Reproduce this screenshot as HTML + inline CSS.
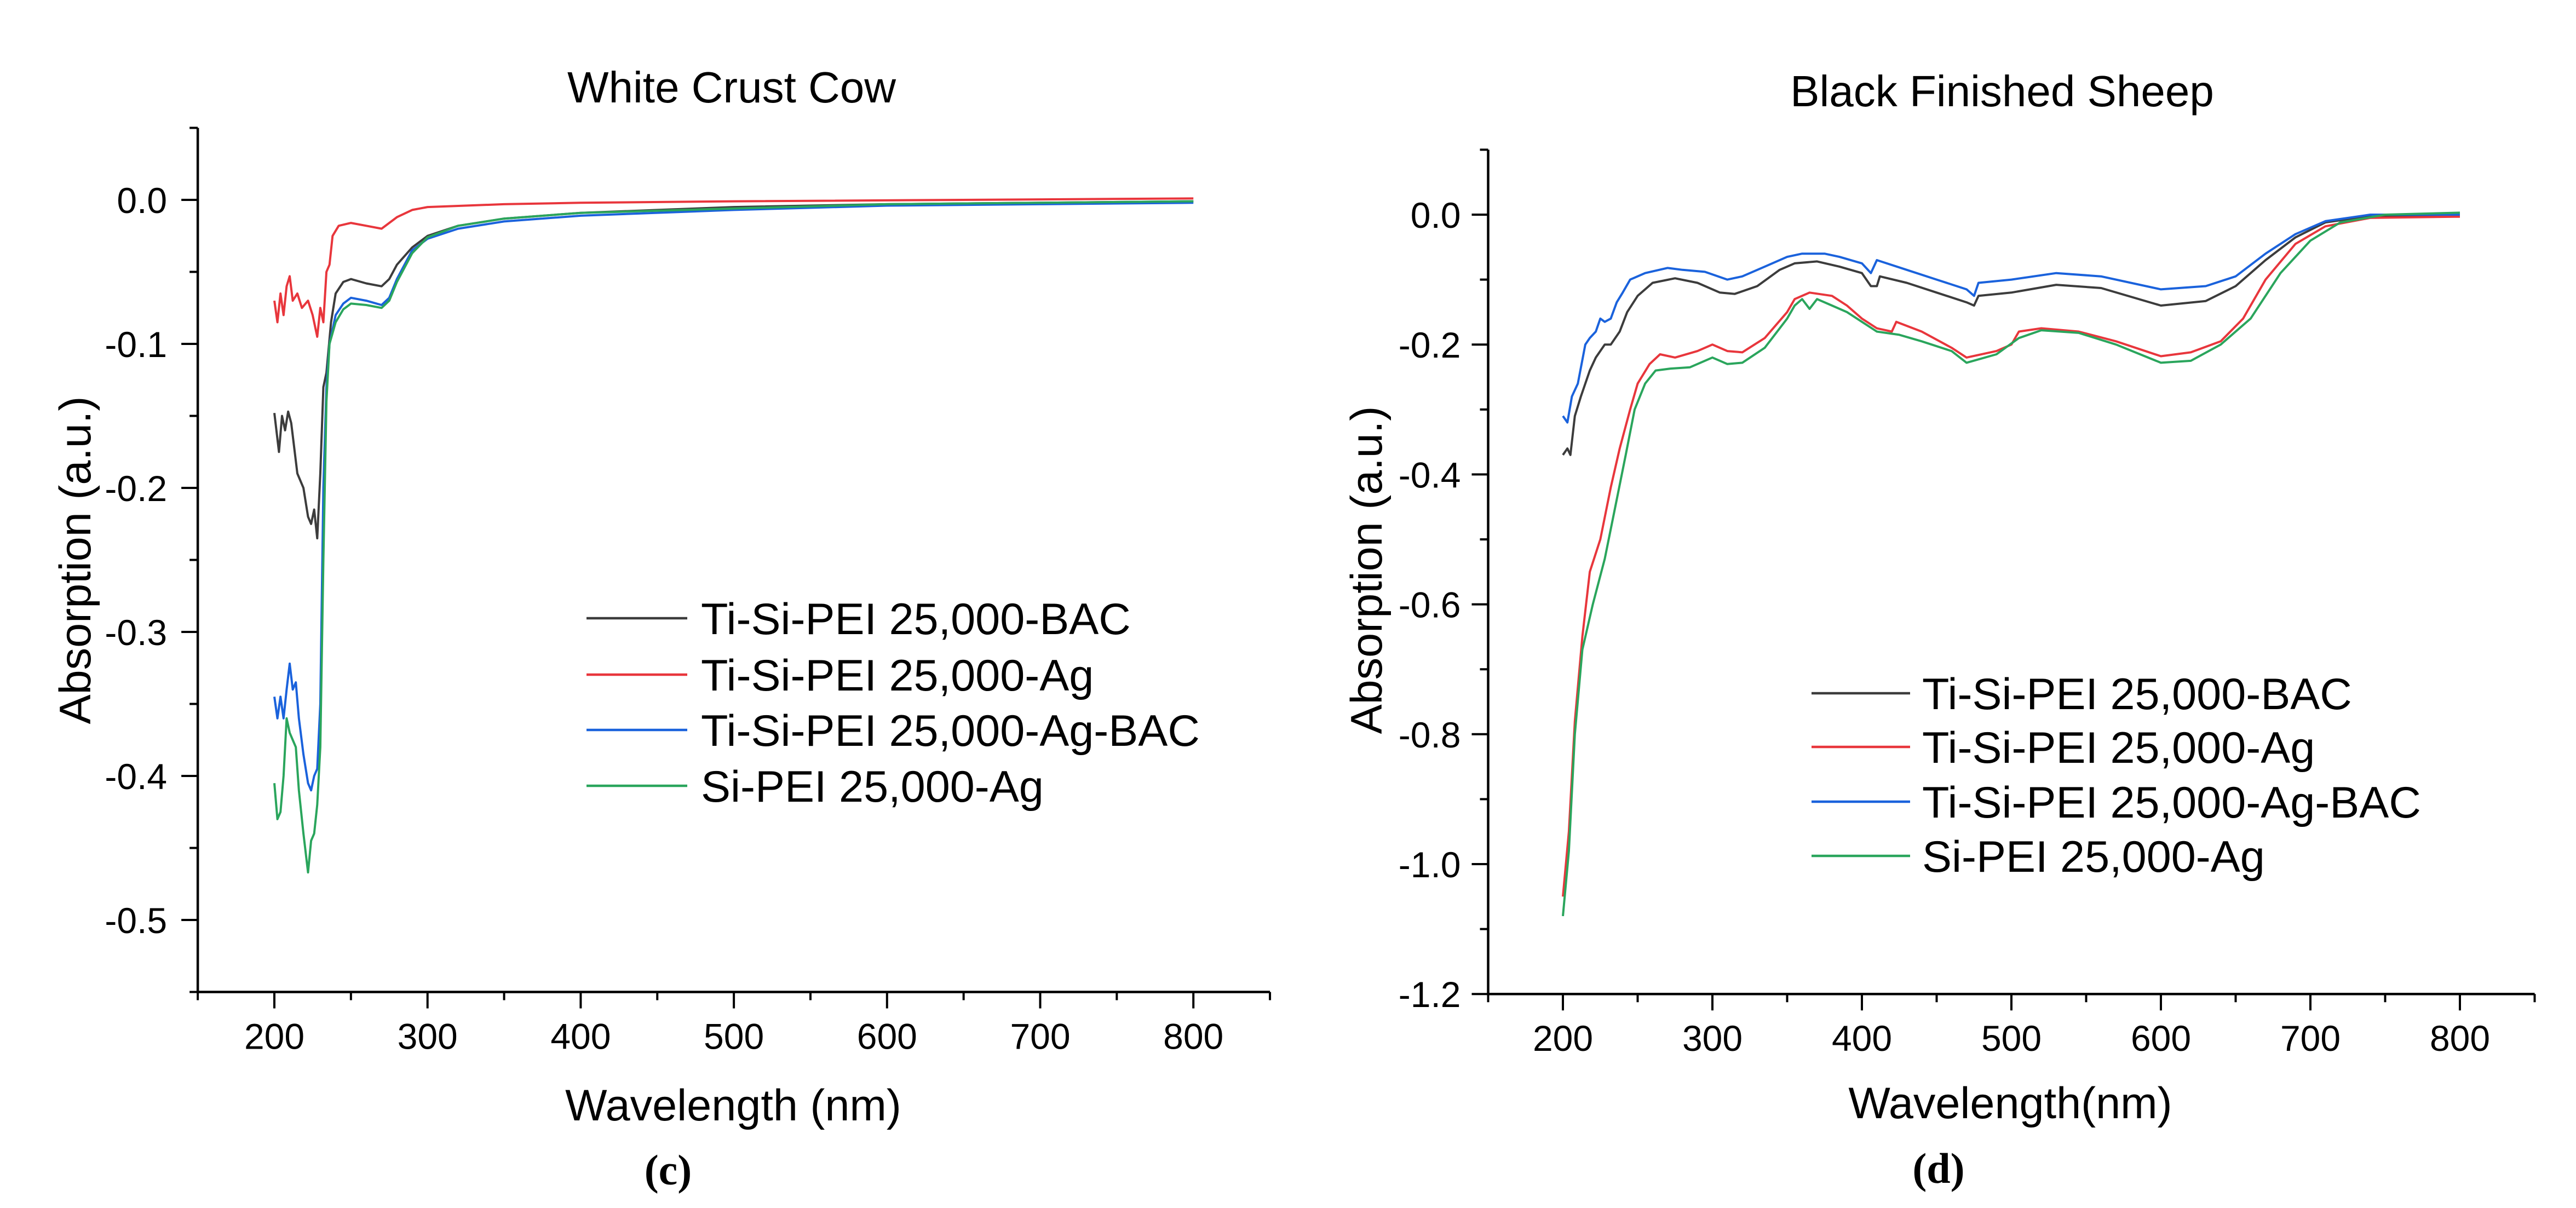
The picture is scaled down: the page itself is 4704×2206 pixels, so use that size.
<!DOCTYPE html>
<html><head><meta charset="utf-8"><style>
html,body{margin:0;padding:0;background:#fff;}
svg{display:block;font-family:"Liberation Sans",Arial,sans-serif;}
</style></head><body>
<svg id="fig" width="4704" height="2206" viewBox="0 0 4704 2206" xmlns="http://www.w3.org/2000/svg"></svg>
<script>
// ---- Panel (c) data: White Crust Cow ----
const cWl_black = [200,203,205,207,209,211,215,219,222,224,226,228,230,232,234,237,240,245,250,260,270,275,280,290,300,320,350,400,500,600,700,800];
const cAbs_black = [-0.148,-0.175,-0.15,-0.16,-0.147,-0.155,-0.19,-0.2,-0.22,-0.225,-0.215,-0.235,-0.19,-0.13,-0.12,-0.085,-0.065,-0.057,-0.055,-0.058,-0.06,-0.055,-0.045,-0.033,-0.025,-0.018,-0.013,-0.009,-0.005,-0.003,-0.002,-0.001];
const cWl_red = [200,202,204,206,208,210,212,215,218,222,225,228,230,232,234,236,238,242,250,260,270,280,290,300,350,400,500,800];
const cAbs_red = [-0.07,-0.085,-0.065,-0.08,-0.06,-0.053,-0.07,-0.065,-0.075,-0.07,-0.08,-0.095,-0.075,-0.085,-0.05,-0.045,-0.025,-0.018,-0.016,-0.018,-0.02,-0.012,-0.007,-0.005,-0.003,-0.002,-0.001,0.001];
const cWl_blue = [200,202,204,206,208,210,212,214,216,219,222,224,226,228,230,232,234,236,240,245,250,260,270,275,280,290,300,320,350,400,500,600,700,800];
const cAbs_blue = [-0.345,-0.36,-0.345,-0.36,-0.34,-0.322,-0.34,-0.335,-0.36,-0.385,-0.405,-0.41,-0.4,-0.395,-0.35,-0.2,-0.13,-0.1,-0.08,-0.072,-0.068,-0.07,-0.073,-0.068,-0.055,-0.035,-0.027,-0.02,-0.015,-0.011,-0.007,-0.004,-0.003,-0.002];
const cWl_green = [200,202,204,206,208,210,212,214,216,219,222,224,226,228,230,232,234,236,240,245,250,260,270,275,280,290,300,320,350,400,500,600,800];
const cAbs_green = [-0.405,-0.43,-0.425,-0.4,-0.36,-0.37,-0.375,-0.38,-0.41,-0.44,-0.467,-0.445,-0.44,-0.42,-0.38,-0.25,-0.14,-0.1,-0.085,-0.076,-0.072,-0.073,-0.075,-0.07,-0.057,-0.037,-0.026,-0.018,-0.013,-0.009,-0.006,-0.003,-0.001];
const cYTicks = [0.0,-0.1,-0.2,-0.3,-0.4,-0.5];
const cYTickLabels = ["0.0","-0.1","-0.2","-0.3","-0.4","-0.5"];

// ---- Panel (d) data: Black Finished Sheep ----
const dWl_black = [200,203,205,208,212,218,222,228,232,238,243,250,260,275,290,305,315,330,345,355,370,385,400,406,410,412,430,450,470,475,478,500,530,560,600,630,650,670,690,710,740,800];
const dAbs_black = [-0.37,-0.36,-0.37,-0.31,-0.28,-0.24,-0.22,-0.2,-0.2,-0.18,-0.15,-0.125,-0.105,-0.098,-0.105,-0.12,-0.122,-0.11,-0.085,-0.075,-0.072,-0.08,-0.09,-0.11,-0.11,-0.095,-0.105,-0.12,-0.135,-0.14,-0.125,-0.12,-0.108,-0.113,-0.14,-0.133,-0.11,-0.07,-0.035,-0.012,-0.002,-0.003];
const dWl_red = [200,204,208,213,218,225,232,238,245,250,258,265,275,290,300,310,320,335,350,355,365,380,390,400,410,420,423,440,460,470,490,500,505,520,545,570,600,620,640,655,670,690,710,740,800];
const dAbs_red = [-1.05,-0.95,-0.78,-0.65,-0.55,-0.5,-0.42,-0.36,-0.3,-0.26,-0.23,-0.215,-0.22,-0.21,-0.2,-0.21,-0.212,-0.19,-0.15,-0.13,-0.12,-0.125,-0.14,-0.16,-0.175,-0.18,-0.165,-0.18,-0.205,-0.22,-0.21,-0.2,-0.18,-0.175,-0.18,-0.195,-0.218,-0.212,-0.195,-0.16,-0.1,-0.045,-0.018,-0.005,-0.003];
const dWl_blue = [200,203,206,210,215,218,222,225,228,232,236,240,245,255,270,280,295,310,320,335,350,360,375,385,400,406,410,430,450,470,475,478,500,530,560,600,630,650,670,690,710,740,800];
const dAbs_blue = [-0.31,-0.32,-0.28,-0.26,-0.2,-0.19,-0.18,-0.16,-0.165,-0.16,-0.135,-0.12,-0.1,-0.09,-0.082,-0.085,-0.088,-0.1,-0.095,-0.08,-0.065,-0.06,-0.06,-0.065,-0.075,-0.09,-0.07,-0.085,-0.1,-0.115,-0.125,-0.105,-0.1,-0.09,-0.095,-0.115,-0.11,-0.095,-0.06,-0.03,-0.01,0.0,0.0];
const dWl_green = [200,204,208,213,220,228,235,242,248,255,262,272,285,300,310,320,335,350,355,360,365,370,380,390,400,410,425,440,460,470,490,505,520,545,570,600,620,640,660,680,700,720,750,800];
const dAbs_green = [-1.08,-0.98,-0.8,-0.67,-0.6,-0.53,-0.45,-0.37,-0.3,-0.26,-0.24,-0.237,-0.235,-0.22,-0.23,-0.228,-0.205,-0.16,-0.14,-0.13,-0.145,-0.13,-0.14,-0.15,-0.165,-0.18,-0.185,-0.195,-0.21,-0.228,-0.215,-0.19,-0.178,-0.182,-0.2,-0.228,-0.225,-0.2,-0.16,-0.09,-0.04,-0.012,0.0,0.003];
const dYTicks = [0.0,-0.2,-0.4,-0.6,-0.8,-1.0,-1.2];
const dYTickLabels = ["0.0","-0.2","-0.4","-0.6","-0.8","-1.0","-1.2"];

const xTicks = [200,300,400,500,600,700,800];
const xTickLabels = ["200","300","400","500","600","700","800"];
const seriesNames = ["Ti-Si-PEI 25,000-BAC","Ti-Si-PEI 25,000-Ag","Ti-Si-PEI 25,000-Ag-BAC","Si-PEI 25,000-Ag"];
const seriesColors = ["#3c3c3c","#e8363c","#1a62dc","#2aa55c"];

const NS = "http://www.w3.org/2000/svg";
const svg = document.getElementById("fig");
function mk(tag, attrs, parent, text) {
  const e = document.createElementNS(NS, tag);
  for (const k in attrs) e.setAttribute(k, attrs[k]);
  if (text !== undefined) e.textContent = text;
  (parent || svg).appendChild(e);
  return e;
}

function panel(p) {
  const g = mk("g", {});
  
  
  const xs = v => p.x0 + (v - 200) * p.xk;
  const ys = v => p.y0 - v * p.yk;
  const L = xs(150), R = xs(850), T = ys(p.ymax), B = ys(p.ymin);
  const ax = mk("path", {d:`M${L} ${T} L${L} ${B} L${R} ${B}`, fill:"none", stroke:"#000", "stroke-width":4.5}, g);
  
  
  for (let v = 150; v <= 850; v += 50) {
    const major = (v % 100 === 0);
    const t = mk("line", {x1:xs(v), x2:xs(v), y1:B, y2:B + (major ? 30 : 15), stroke:"#000", "stroke-width":4}, g);
    
    
  }
  xTicks.forEach((v, i) => {
    const t = mk("text", {x:xs(v), y:B + 104, "font-size":66, "text-anchor":"middle", fill:"#000"}, g, xTickLabels[i]);
    
    
  });
  const n = Math.round((p.ymax - p.ymin) / p.minor);
  for (let i = 0; i <= n; i++) {
    const v = p.ymin + i * p.minor;
    const major = p.yTicks.some(t => Math.abs(t - v) < 1e-6);
    const t = mk("line", {x1:L, x2:L - (major ? 30 : 15), y1:ys(v), y2:ys(v), stroke:"#000", "stroke-width":4}, g);
    
    
  }
  p.yTicks.forEach((v, i) => {
    const t = mk("text", {x:L - p.labGap, y:ys(v) + 24, "font-size":66, "text-anchor":"end", fill:"#000"}, g, p.yLabels[i]);
    
    
  });
  let t = mk("text", {x:p.titleX, y:p.titleY, "font-size":80, "text-anchor":"middle", fill:"#000"}, g, p.title);
  
  
  t = mk("text", {x:p.xtX, y:p.xtY, "font-size":81, "text-anchor":"middle", fill:"#000"}, g, p.xTitle);
  
  
  t = mk("text", {x:0, y:0, "font-size":81, "text-anchor":"middle", fill:"#000", transform:`translate(${p.ytX} ${p.ytY}) rotate(-90)`}, g, "Absorption (a.u.)");
  
  
  t = mk("text", {x:p.capX, y:p.capY, "font-size":78, "font-weight":"bold", "text-anchor":"middle", fill:"#000", "font-family":"'Liberation Serif',serif"}, g, p.caption);
  
  
  p.series.forEach((s, i) => {
    const d = s[0].map((w, j) => (j ? "L" : "M") + xs(w).toFixed(1) + " " + ys(s[1][j]).toFixed(1)).join(" ");
    const pl = mk("path", {d, fill:"none", stroke:seriesColors[i], "stroke-width":4, "stroke-linejoin":"round"}, g);
    
    
  });
  seriesNames.forEach((nm, i) => {
    const y = p.legY[i];
    const ln = mk("line", {x1:p.legX1, x2:p.legX2, y1:y, y2:y, stroke:seriesColors[i], "stroke-width":4.5}, g);
    
    
    const tx = mk("text", {x:p.legTX, y:y + 29, "font-size":81, fill:"#000"}, g, nm);
    
    
  });
}

panel({id:"panel-c-chart", x0:501, xk:2.797, y0:365, yk:2630, ymax:0.05, ymin:-0.55, minor:0.05,
  yTicks:cYTicks, yLabels:cYTickLabels, labGap:56,
  title:"White Crust Cow", titleX:1336, titleY:187, xTitle:"Wavelength (nm)", xtX:1339, xtY:2046,
  ytX:165, ytY:1023, caption:"(c)", capX:1220, capY:2163,
  series:[[cWl_black,cAbs_black],[cWl_red,cAbs_red],[cWl_blue,cAbs_blue],[cWl_green,cAbs_green]],
  legX1:1071, legX2:1255, legTX:1280, legY:[1129,1232,1333,1435]});

panel({id:"panel-d-chart", x0:2854, xk:2.73, y0:392, yk:1186, ymax:0.1, ymin:-1.2, minor:0.1,
  yTicks:dYTicks, yLabels:dYTickLabels, labGap:50,
  title:"Black Finished Sheep", titleX:3656, titleY:194, xTitle:"Wavelength(nm)", xtX:3671, xtY:2042,
  ytX:2523, ytY:1041, caption:"(d)", capX:3540, capY:2160,
  series:[[dWl_black,dAbs_black],[dWl_red,dAbs_red],[dWl_blue,dAbs_blue],[dWl_green,dAbs_green]],
  legX1:3308, legX2:3488, legTX:3510, legY:[1266,1364,1464,1563]});
</script>
</body></html>
